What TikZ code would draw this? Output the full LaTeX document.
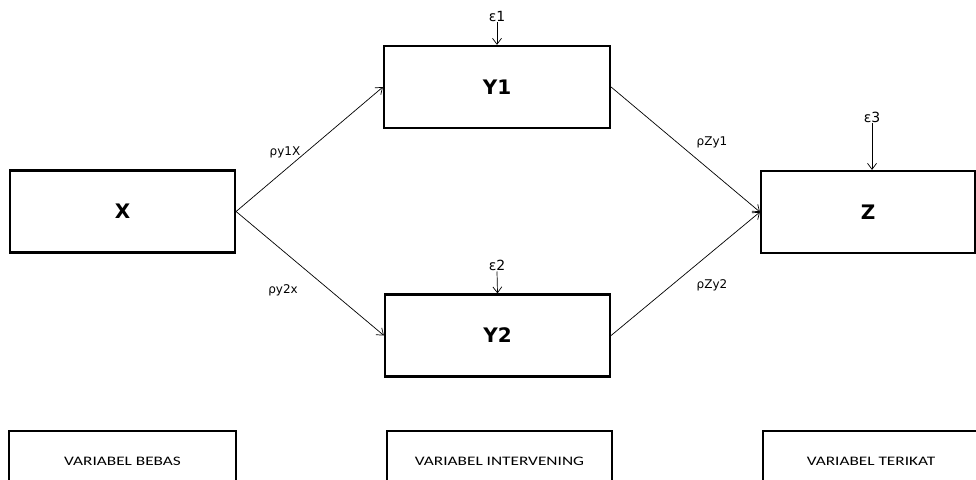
\documentclass[tikz,border=0pt]{standalone}
\usepackage{fontspec}
\setmainfont{DejaVu Sans}
\newfontfamily\calfont[FakeStretch=1.33]{Carlito}
\usetikzlibrary{arrows.meta}
\begin{document}
\begin{tikzpicture}[x=1pt,y=-1pt,
  varbox/.style={draw,line width=2.2pt,minimum width=#1,minimum height=82pt,inner sep=0pt,font=\bfseries\fontsize{20}{23}\selectfont},
  catbox/.style={draw,line width=1.6pt,minimum width=#1,minimum height=60pt,inner sep=0pt,font=\calfont\fontsize{13}{15}\selectfont},
  coef/.style={font=\fontsize{12}{14}\selectfont,inner sep=1pt},
  errlab/.style={font=\fontsize{14}{16}\selectfont,inner sep=1pt},
  path/.style={line width=0.7pt,-{Straight Barb[length=6pt,width=9pt,line width=0.7pt]}}]
\useasboundingbox (0,0) rectangle (976,479);
\clip (0,0) rectangle (976,479);
\fill[white] (0,0) rectangle (976,479);

% variables
\node[varbox=225pt] (X)  at (122.5,211.5) {X};
\node[varbox=226pt] (Y1) at (497,87) {Y1};
\node[varbox=225pt] (Y2) at (497.5,335.5) {Y2};
\node[varbox=214pt] (Z)  at (868,212) {Z};

% error terms
\node[errlab] (e1) at (497,16) {ε1};
\node[errlab] (e2) at (497,265) {ε2};
\node[errlab] (e3) at (872,117) {ε3};
\draw[path] (e1.south) -- (Y1.north);
\draw[path] (e2.south) -- (Y2.north);
\draw[path] (e3.south) -- (e3 |- Z.north);

% paths between variables
\draw[path] (X.east) -- (Y1.west);
\draw[path] (X.east) -- (Y2.west);
\draw[path] (Y1.east) -- (Z.west);
\draw[path] (Y2.east) -- (Z.west);

% path coefficients
\node[coef] (p1) at (285,152) {ρy1X};
\node[coef] (p2) at (283,290) {ρy2x};
\node[coef] (p3) at (712,142) {ρZy1};
\node[coef] (p4) at (712,285) {ρZy2};

% categories
\node[catbox=227pt] (cb) at (122.5,461) {VARIABEL BEBAS};
\node[catbox=225pt] (ci) at (499.5,461) {VARIABEL INTERVENING};
\node[catbox=216pt] (ct) at (871,461) {VARIABEL TERIKAT};
\end{tikzpicture}
\end{document}
